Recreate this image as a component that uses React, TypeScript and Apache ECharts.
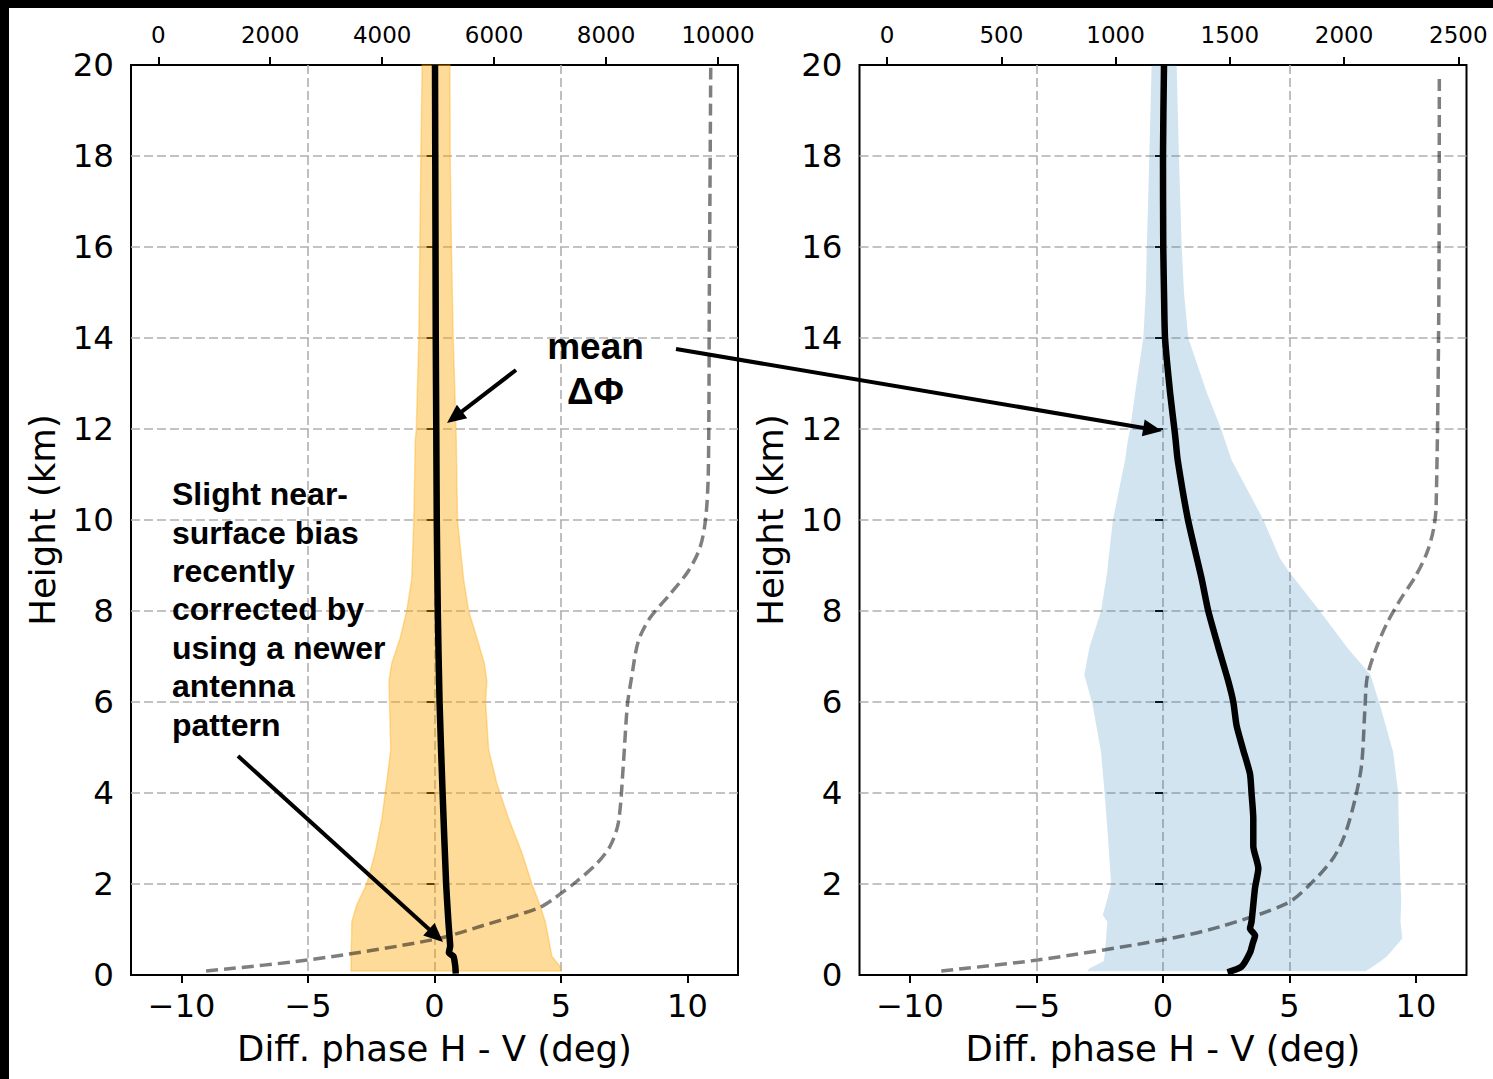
import React, { useEffect, useRef } from "react";
import * as echarts from "echarts";

// ---------- data ----------
// Left panel: orange spread band (x = diff phase, deg) vs height (km)
const leftBandY = [0.09, 0.2, 0.41, 0.8, 1.17, 1.55, 2.0, 2.68, 3.44, 4.2, 4.95, 6.0, 6.46, 6.85, 7.4, 8.0, 8.7, 10.0, 11.75, 12.0, 14.0, 16.0, 18.0, 20.0];
const leftBandLow = [-3.3, -3.3, -3.3, -3.28, -3.27, -3.07, -2.68, -2.35, -2.08, -1.9, -1.73, -1.78, -1.8, -1.69, -1.36, -1.1, -0.9, -0.82, -0.76, -0.72, -0.62, -0.58, -0.54, -0.49];
const leftBandHigh = [5.0, 4.95, 4.64, 4.51, 4.38, 4.16, 3.85, 3.46, 2.93, 2.47, 2.14, 2.02, 2.07, 1.97, 1.68, 1.35, 1.15, 0.91, 0.86, 0.85, 0.74, 0.67, 0.62, 0.61];
// Left panel: mean diff phase
const leftMeanY = [0.03, 0.2, 0.41, 0.49, 0.64, 0.8, 1.17, 2.0, 4.0, 6.0, 8.0, 10.0, 12.0, 14.0, 16.0, 18.0, 20.0];
const leftMeanX = [0.84, 0.82, 0.75, 0.57, 0.62, 0.6, 0.55, 0.46, 0.32, 0.2, 0.13, 0.09, 0.07, 0.05, 0.04, 0.03, 0.02];
// Left panel: sample count (top axis) vs height
const leftCountY = [0.09, 0.33, 0.78, 1.1, 1.47, 1.67, 2.06, 2.45, 2.83, 3.35, 4.63, 5.92, 6.56, 7.34, 7.85, 8.37, 8.88, 9.4, 10.04, 11.07, 14.93, 19.95];
const leftCount = [855, 2675, 4925, 5834, 6786, 7059, 7477, 7834, 8071, 8220, 8309, 8380, 8459, 8577, 8786, 9143, 9470, 9680, 9780, 9827, 9845, 9870];

// Right panel: blue spread band
const rightBandY = [0.08, 0.15, 0.3, 0.41, 0.8, 1.17, 1.32, 1.67, 2.0, 3.06, 4.0, 4.9, 5.93, 6.6, 7.2, 8.0, 8.88, 9.16, 10.0, 11.32, 11.75, 12.0, 12.8, 14.0, 15.0, 16.0, 18.0, 20.0];
const rightBandLow = [-3.0, -2.9, -2.35, -2.31, -2.25, -2.2, -2.38, -2.2, -2.05, -2.18, -2.31, -2.45, -2.78, -3.11, -2.91, -2.45, -2.2, -2.15, -1.98, -1.5, -1.39, -1.3, -1.1, -0.78, -0.68, -0.64, -0.54, -0.45];
const rightBandHigh = [8.0, 8.2, 8.6, 8.86, 9.46, 9.39, 9.4, 9.42, 9.39, 9.33, 9.3, 9.1, 8.58, 8.2, 7.28, 6.2, 4.96, 4.62, 3.97, 2.71, 2.45, 2.3, 1.73, 1.0, 0.83, 0.74, 0.63, 0.54];
// Right panel: mean diff phase
const rightMeanY = [0.06, 0.18, 0.49, 0.7, 0.87, 1.02, 1.17, 1.92, 2.34, 2.83, 3.44, 4.0, 4.42, 4.95, 5.48, 6.0, 6.46, 7.22, 8.0, 8.73, 10.0, 11.32, 11.75, 12.0, 12.8, 14.0, 15.0, 16.0, 18.0, 20.0];
const rightMeanX = [2.55, 3.1, 3.44, 3.55, 3.64, 3.44, 3.5, 3.64, 3.77, 3.57, 3.57, 3.5, 3.44, 3.17, 2.91, 2.78, 2.58, 2.18, 1.79, 1.52, 0.99, 0.58, 0.5, 0.45, 0.28, 0.08, 0.04, 0.01, 0.0, 0.04];
// Right panel: sample count (top axis)
const rightCountY = [0.09, 0.33, 0.77, 1.06, 1.58, 2.06, 2.57, 3.09, 3.86, 4.63, 5.92, 6.56, 7.21, 7.72, 8.24, 8.75, 9.27, 9.78, 10.3, 14.9, 19.8];
const rightCount = [237, 658, 1205, 1456, 1752, 1865, 1953, 2004, 2048, 2077, 2092, 2102, 2143, 2187, 2245, 2311, 2362, 2391, 2403, 2415, 2417];

// Tick labels
const phaseTicks = [-10, -5, 0, 5, 10];
const leftCountTicks = [0, 2000, 4000, 6000, 8000, 10000];
const rightCountTicks = [0, 500, 1000, 1500, 2000, 2500];

const FONT = "DejaVu Sans";
const ANN_FONT = "Liberation Sans";

function pairs(xs: number[], ys: number[]) {
  return xs.map((x, i) => [x, ys[i]]);
}

function bandRenderer(ys: number[], lo: number[], hi: number[], fill: string, stroke: string) {
  return (params: any, api: any) => {
    const pts: number[][] = [];
    for (let i = 0; i < ys.length; i++) pts.push(api.coord([lo[i], ys[i]]));
    for (let i = ys.length - 1; i >= 0; i--) pts.push(api.coord([hi[i], ys[i]]));
    return {
      type: "polygon",
      shape: { points: pts },
      style: { fill, stroke, lineWidth: 1.5 },
    };
  };
}

function arrow(x1: number, y1: number, x2: number, y2: number, headLen = 19, headW = 17) {
  const dx = x2 - x1;
  const dy = y2 - y1;
  const L = Math.sqrt(dx * dx + dy * dy);
  const ux = dx / L;
  const uy = dy / L;
  const bx = x2 - ux * headLen;
  const by = y2 - uy * headLen;
  const nx = -uy;
  const ny = ux;
  return [
    {
      type: "line",
      shape: { x1, y1, x2: bx + ux * 2, y2: by + uy * 2 },
      style: { stroke: "#000", lineWidth: 4 },
      z: 100,
    },
    {
      type: "polygon",
      shape: {
        points: [
          [x2, y2],
          [bx + (nx * headW) / 2, by + (ny * headW) / 2],
          [bx - (nx * headW) / 2, by - (ny * headW) / 2],
        ],
      },
      style: { fill: "#000" },
      z: 100,
    },
  ];
}

const gridLine = { color: "#b0b0b0", width: 1.6, type: [9, 4] as any };
const tickStyle = { length: 8, lineStyle: { color: "#000", width: 2 } };
const fmtPhase = (v: number) => (v < 0 ? "\u2212" + Math.abs(v) : String(v));

function phaseAxis(gridIndex: number) {
  return {
    gridIndex,
    type: "value",
    position: "bottom",
    min: -12,
    max: 12,
    splitNumber: 5,
    axisLine: { show: false },
    axisTick: { show: true, customValues: phaseTicks, ...tickStyle },
    axisLabel: {
      customValues: phaseTicks,
      formatter: fmtPhase,
      fontSize: 32,
      fontFamily: FONT,
      color: "#000",
      margin: 15,
    },
    splitLine: { show: true, showMinLine: false, showMaxLine: false, lineStyle: gridLine },
    name: "Diff. phase H - V (deg)",
    nameLocation: "middle",
    nameGap: 55,
    nameTextStyle: { fontSize: 35.5, fontFamily: FONT, color: "#000" },
  };
}

function countAxis(gridIndex: number, min: number, max: number, ticks: number[]) {
  return {
    gridIndex,
    type: "value",
    position: "top",
    min,
    max,
    axisLine: { show: false },
    axisTick: { show: true, customValues: ticks, ...tickStyle },
    axisLabel: {
      customValues: ticks,
      formatter: (v: number) => String(v),
      fontSize: 23,
      fontFamily: FONT,
      color: "#000",
      margin: 19,
    },
    splitLine: { show: false },
  };
}

function heightAxis(gridIndex: number) {
  return {
    gridIndex,
    type: "value",
    min: 0,
    max: 20,
    interval: 2,
    axisLine: { show: false },
    axisTick: { show: true, ...tickStyle },
    axisLabel: { fontSize: 32.5, fontFamily: FONT, color: "#000", margin: 17 },
    splitLine: { show: true, showMinLine: false, showMaxLine: false, lineStyle: gridLine },
    name: "Height (km)",
    nameLocation: "middle",
    nameGap: 71,
    nameRotate: 90,
    nameTextStyle: { fontSize: 35.5, fontFamily: FONT, color: "#000" },
  };
}

export default function App() {
  const ref = useRef<HTMLDivElement>(null);

  useEffect(() => {
    if (!ref.current) return;
    const chart = echarts.init(ref.current, null, { renderer: "svg" });

    const gridBase = {
      top: 65,
      height: 910,
      width: 607,
      show: true,
      borderColor: "#000",
      borderWidth: 2,
      backgroundColor: "transparent",
      containLabel: false,
      outerBoundsMode: "none",
    };

    const meanStyle = { color: "#000", width: 6.5, join: "round" };
    const countStyle = { color: "rgba(0,0,0,0.5)", width: 3.5, type: [12, 6] };

    const option: any = {
      animation: false,
      backgroundColor: "#fff",
      grid: [
        { ...gridBase, left: 131 },
        { ...gridBase, left: 859.5 },
      ],
      xAxis: [
        phaseAxis(0),
        countAxis(0, -487, 10357, leftCountTicks),
        phaseAxis(1),
        countAxis(1, -121, 2536, rightCountTicks),
      ],
      yAxis: [heightAxis(0), heightAxis(1)],
      series: [
        {
          type: "custom",
          name: "spread-left",
          xAxisIndex: 0,
          yAxisIndex: 0,
          data: [[0, 10]],
          renderItem: bandRenderer(leftBandY, leftBandLow, leftBandHigh, "rgba(255,165,0,0.4)", "rgba(255,165,0,0.35)"),
          z: 2,
          silent: true,
        },
        {
          type: "line",
          name: "mean-left",
          xAxisIndex: 0,
          yAxisIndex: 0,
          data: pairs(leftMeanX, leftMeanY),
          showSymbol: false,
          symbol: "none",
          smooth: 0.2,
          lineStyle: meanStyle,
          z: 3,
        },
        {
          type: "line",
          name: "count-left",
          xAxisIndex: 1,
          yAxisIndex: 0,
          data: pairs(leftCount, leftCountY),
          showSymbol: false,
          symbol: "none",
          smooth: 0.3,
          lineStyle: countStyle,
          z: 4,
        },
        {
          type: "custom",
          name: "spread-right",
          xAxisIndex: 2,
          yAxisIndex: 1,
          data: [[0, 10]],
          renderItem: bandRenderer(rightBandY, rightBandLow, rightBandHigh, "rgba(31,119,180,0.2)", "rgba(31,119,180,0.0)"),
          z: 2,
          silent: true,
        },
        {
          type: "line",
          name: "mean-right",
          xAxisIndex: 2,
          yAxisIndex: 1,
          data: pairs(rightMeanX, rightMeanY),
          showSymbol: false,
          symbol: "none",
          smooth: 0.2,
          lineStyle: meanStyle,
          z: 3,
        },
        {
          type: "line",
          name: "count-right",
          xAxisIndex: 3,
          yAxisIndex: 1,
          data: pairs(rightCount, rightCountY),
          showSymbol: false,
          symbol: "none",
          smooth: 0.3,
          lineStyle: countStyle,
          z: 4,
        },
      ],
      graphic: [
        { type: "rect", shape: { x: 0, y: 0, width: 1493, height: 8 }, style: { fill: "#000" }, z: 200 },
        { type: "rect", shape: { x: 0, y: 0, width: 9, height: 1079 }, style: { fill: "#000" }, z: 200 },
        {
          type: "text",
          x: 172,
          y: 475,
          z: 100,
          style: {
            text: "Slight near-\nsurface bias\nrecently\ncorrected by\nusing a newer\nantenna\npattern",
            fontFamily: ANN_FONT,
            fontWeight: "bold",
            fontSize: 32,
            lineHeight: 38.4,
            fill: "#000",
            align: "left",
            verticalAlign: "top",
          },
        },
        {
          type: "text",
          x: 595.5,
          y: 324,
          z: 100,
          style: {
            text: "mean\n\u0394\u03A6",
            fontFamily: ANN_FONT,
            fontWeight: "bold",
            fontSize: 37,
            lineHeight: 45,
            fill: "#000",
            align: "center",
            verticalAlign: "top",
          },
        },
        ...arrow(516, 370, 447, 423),
        ...arrow(676, 349, 1162, 431),
        ...arrow(238, 756, 443, 942),
      ],
    };

    chart.setOption(option);
    return () => chart.dispose();
  }, []);

  return (
    <div
      ref={ref}
      style={{ position: "absolute", left: 0, top: 0, width: 1493, height: 1079 }}
    />
  );
}
